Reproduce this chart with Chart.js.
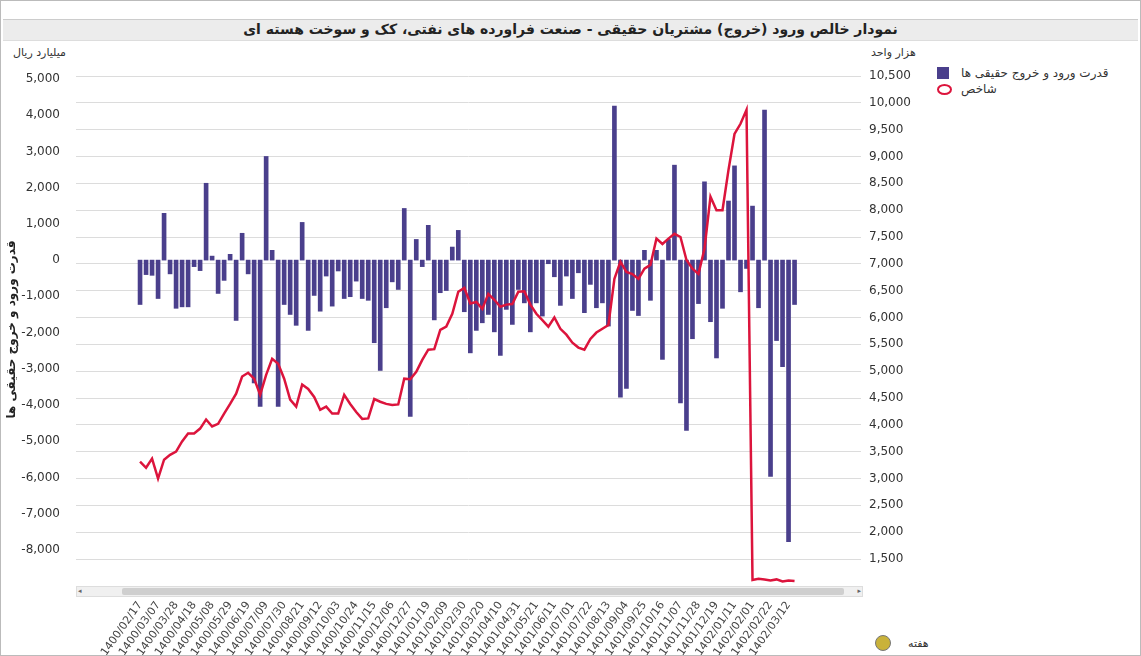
<!DOCTYPE html>
<html><head><meta charset="utf-8">
<script src="https://cdn.jsdelivr.net/npm/chart.js@4"></script>
<style>
body{margin:0;background:#fff;font-family:Tahoma,"DejaVu Sans",sans-serif;}
#wrap{position:absolute;left:0;top:0;width:1139px;height:654px;border:1px solid #bbb;overflow:hidden;}
#tbar{position:absolute;left:2px;top:18px;width:1135px;height:20px;background:#ececec;border-top:1px solid #ccc;border-bottom:1px solid #ddd;}
#title{position:absolute;left:0;width:1135px;top:1px;text-align:center;font-weight:bold;font-size:14px;color:#222;direction:rtl;padding-left:0}
.t{position:absolute;font-size:11px;color:#333;direction:rtl;white-space:nowrap}
#c{position:absolute;left:0;top:0}
#sb{position:absolute;left:75px;top:585px;width:785px;height:9px;background:#f0f0f0;border:1px solid #ddd}
#th{position:absolute;left:45px;top:1px;width:722px;height:7px;background:#cfcfcf;border-radius:2px}
.ar{position:absolute;top:0;font-size:7px;color:#666}
</style></head><body>
<div id="wrap">
<div id="tbar"><div id="title">نمودار خالص ورود (خروج) مشتریان حقیقی - صنعت فراورده های نفتی، کک و سوخت هسته ای</div></div>
<div class="t" style="left:12px;top:45px">میلیارد ریال</div>
<div class="t" style="left:870px;top:45px">هزار واحد</div>
<div class="t" style="left:907px;top:636px">هفته</div>
<div style="position:absolute;left:874px;top:634px;width:14px;height:14px;border-radius:50%;background:#c9b23a;border:1px solid #777"></div>
<div style="position:absolute;left:936px;top:66px;width:12px;height:12px;background:#4a3f8c"></div>
<div class="t" style="left:960px;top:65px;font-size:12px">قدرت ورود و خروج حقیقی ها</div>
<div style="position:absolute;left:936px;top:83px;width:11px;height:7px;border:2px solid #dc143c;border-radius:50%"></div>
<div class="t" style="left:960px;top:81px;font-size:12px">شاخص</div>
<canvas id="c" width="1141" height="656"></canvas>
<div id="sb"><div id="th"></div><span class="ar" style="left:1px">◂</span><span class="ar" style="right:1px">▸</span></div>
</div>
<script>
const tickLabels=["1400/02/17","1400/03/07","1400/03/28","1400/04/18","1400/05/08","1400/05/29","1400/06/19","1400/07/09","1400/07/30","1400/08/21","1400/09/12","1400/10/03","1400/10/24","1400/11/15","1400/12/06","1400/12/27","1401/01/19","1401/02/09","1401/02/30","1401/03/20","1401/04/10","1401/04/31","1401/05/21","1401/06/11","1401/07/01","1401/07/22","1401/08/13","1401/09/04","1401/09/25","1401/10/16","1401/11/07","1401/11/28","1401/12/19","1402/01/11","1402/02/01","1402/02/22","1402/03/12"];
const flows=[-1225,-400,-420,-1060,1290,-380,-1330,-1290,-1290,-180,-290,2120,110,-920,-560,160,-1665,740,-380,-3390,-4040,2860,270,-4040,-1225,-1500,-1800,1040,-1940,-975,-1410,-440,-1270,-300,-1060,-1010,-580,-1060,-1110,-2280,-3045,-1315,-600,-810,1425,-4315,570,-180,960,-1650,-900,-840,360,820,-1425,-2560,-1940,-1730,-1500,-1980,-2630,-1360,-1775,-810,-1180,-1980,-1180,-1545,-100,-460,-1250,-440,-1060,-350,-1450,-670,-1315,-1180,-1820,4250,-3780,-3540,-1390,-1530,270,-1110,270,-2740,570,2620,-3940,-4700,-2170,-1200,2160,-1700,-2700,-1330,1630,2600,-875,-230,1490,-1315,4140,-5970,-2220,-2940,-7770,-1225];
const index=[3313,3200,3370,3000,3350,3440,3500,3690,3840,3840,3930,4100,3970,4020,4210,4390,4580,4900,4970,4860,4560,4930,5230,5140,4860,4470,4340,4750,4670,4520,4280,4340,4210,4210,4560,4390,4240,4110,4120,4480,4430,4390,4370,4380,4860,4850,4990,5210,5400,5410,5770,5830,6070,6480,6550,6260,6290,6160,6440,6330,6200,6240,6250,6480,6490,6240,6070,5950,5830,6000,5790,5680,5530,5440,5400,5600,5720,5790,5860,6720,7040,6850,6810,6720,6910,6980,7470,7370,7470,7560,7500,7070,6910,6810,7280,8250,8000,8000,8750,9420,9610,9870,1110,1130,1120,1100,1120,1080,1100,1090];
const F="Tahoma, 'DejaVu Sans', sans-serif";
new Chart(document.getElementById('c'),{
 data:{datasets:[
  {type:'line',label:'شاخص',data:index.map((v,i)=>({x:i,y:v})),yAxisID:'y1',borderColor:'#dc143c',borderWidth:2.5,pointRadius:0,tension:0,order:0},
  {type:'bar',label:'قدرت',data:flows.map((v,i)=>({x:i,y:v})),yAxisID:'y',backgroundColor:'#4a3f8c',barThickness:4,order:1}
 ]},
 options:{responsive:false,devicePixelRatio:1,animation:false,
  plugins:{legend:{display:false},tooltip:{enabled:false}},
  layout:{padding:{top:75,right:221,left:0,bottom:0}},
  scales:{
   x:{type:'linear',min:-8.9,max:118.3,grid:{display:false},border:{display:false},
      afterBuildTicks:s=>{s.ticks=tickLabels.map((_,k)=>({value:k*3}));},
      afterFit:s=>{s.height=74;},
      ticks:{autoSkip:false,minRotation:55,maxRotation:55,padding:8,color:'#444',font:{family:F,size:11},callback:(v)=>tickLabels[Math.round(v/3)]}},
   y:{position:'left',min:-8910,max:5080,grid:{display:false},border:{display:false},
      afterFit:s=>{s.width=75;},
      afterBuildTicks:s=>{s.ticks=[];for(let v=-8000;v<=5000;v+=1000)s.ticks.push({value:v});},
      title:{display:true,text:'قدرت ورود و خروج حقیقی ها',font:{family:F,size:12,weight:'bold'},color:'#222'},
      ticks:{color:'#333',font:{family:F,size:12},padding:8,callback:v=>v.toLocaleString('en-US')}},
   y1:{position:'right',min:1053,max:10500,border:{display:false},
      grid:{color:'#dcdcdc',lineWidth:1,drawTicks:false},
      afterFit:s=>{s.width=60;},
      afterBuildTicks:s=>{s.ticks=[];for(let v=1500;v<=10500;v+=500)s.ticks.push({value:v});},
      ticks:{color:'#333',font:{family:F,size:12},padding:8,callback:v=>v.toLocaleString('en-US')}}
  }}
});
</script></body></html>
